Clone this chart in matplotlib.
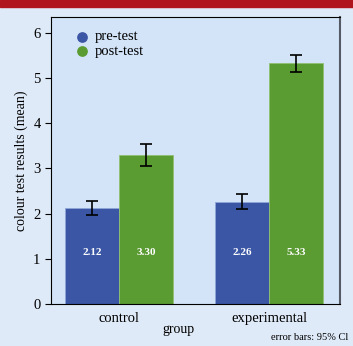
import matplotlib.pyplot as plt
import numpy as np

groups = ['control', 'experimental']
pre = [2.12, 2.26]
post = [3.30, 5.33]
pre_err = [0.15, 0.165]
post_err = [0.24, 0.19]

plt.rcParams['font.family'] = ['Liberation Serif', 'DejaVu Serif']

blue = '#3a56a5'
green = '#5a9b32'

fig = plt.figure(figsize=(3.53, 3.46), dpi=100, facecolor='#dfeaf8')
ax = fig.add_axes([51/353, 1 - 304/346, 289/353, 287/346], facecolor='#d3e4f8')

x = np.arange(len(groups))
w = 0.36
ax.bar(x - w/2, pre, w, color=blue, edgecolor='#8fa6d8', linewidth=0.6)
ax.bar(x + w/2, post, w, color=green, edgecolor='#8fc070', linewidth=0.6)
ax.errorbar(x - w/2, pre, yerr=pre_err, fmt='none', ecolor='black', elinewidth=1.2, capsize=4.3, capthick=1.2)
ax.errorbar(x + w/2, post, yerr=post_err, fmt='none', ecolor='black', elinewidth=1.2, capsize=4.3, capthick=1.2)

for xi, v in zip(x - w/2, pre):
    ax.text(xi, 1.13, '%.2f' % v, ha='center', va='center', color='white', fontsize=8, fontweight='bold')
for xi, v in zip(x + w/2, post):
    ax.text(xi, 1.13, '%.2f' % v, ha='center', va='center', color='white', fontsize=8, fontweight='bold')

ax.set_xlim(-0.453, 1.473)
ax.set_ylim(0, 6.35)
ax.set_yticks(range(7))
ax.set_xticks(x)
ax.set_xticklabels(groups, fontsize=10.5)
ax.tick_params(axis='x', length=0, pad=6)
ax.tick_params(axis='y', labelsize=10.5, length=4)
ax.set_ylabel('colour test results (mean)', fontsize=10, labelpad=4)

for s in ['left', 'bottom', 'top']:
    ax.spines[s].set_color('black')
ax.spines['right'].set_color('#555b66')
ax.spines['right'].set_linewidth(1.5)

ax.scatter([], [], color=blue, s=45, label='pre-test')
ax.scatter([], [], color=green, s=45, label='post-test')
ax.legend(loc='upper left', frameon=False, fontsize=10.5, handletextpad=0.3,
          handlelength=1.2, labelspacing=0.1, bbox_to_anchor=(0.03, 1.0))

fig.text(178/353, 1 - 330/346, 'group', ha='center', va='center', fontsize=10)
fig.text(348/353, 1 - 337/346, 'error bars: 95% Cl', ha='right', va='center', fontsize=7.5)
fig.patches.append(plt.Rectangle((0, 1 - 7/346), 1, 7/346, transform=fig.transFigure,
                                 color='#b0141c', zorder=5))

plt.savefig('out.png', dpi=100, facecolor=fig.get_facecolor())
